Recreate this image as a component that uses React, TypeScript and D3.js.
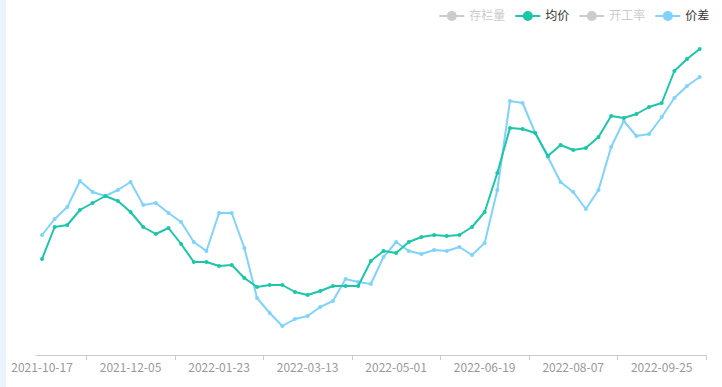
import { useEffect } from 'react';
import * as d3 from 'd3';

const dates = [
  '2021-10-17', '2021-10-24', '2021-10-31', '2021-11-07', '2021-11-14', '2021-11-21', '2021-11-28',
  '2021-12-05', '2021-12-12', '2021-12-19', '2021-12-26', '2022-01-02', '2022-01-09', '2022-01-16',
  '2022-01-23', '2022-01-30', '2022-02-06', '2022-02-13', '2022-02-20', '2022-02-27', '2022-03-06',
  '2022-03-13', '2022-03-20', '2022-03-27', '2022-04-03', '2022-04-10', '2022-04-17', '2022-04-24',
  '2022-05-01', '2022-05-08', '2022-05-15', '2022-05-22', '2022-05-29', '2022-06-05', '2022-06-12',
  '2022-06-19', '2022-06-26', '2022-07-03', '2022-07-10', '2022-07-17', '2022-07-24', '2022-07-31',
  '2022-08-07', '2022-08-14', '2022-08-21', '2022-08-28', '2022-09-04', '2022-09-11', '2022-09-18',
  '2022-09-25', '2022-10-02', '2022-10-09', '2022-10-16',
];

// 均价
const avgPrice = [
  9.6, 12.8, 13.0, 14.5, 15.2, 15.9, 15.4, 14.3, 12.8, 12.1, 12.7, 11.1, 9.3, 9.3,
  8.9, 9.0, 7.7, 6.8, 7.0, 7.0, 6.3, 6.0, 6.4, 6.9, 6.9, 6.9, 9.4, 10.4,
  10.2, 11.3, 11.8, 12.0, 11.9, 12.0, 12.8, 14.3, 18.2, 22.7, 22.6, 22.2, 19.9, 21.0,
  20.5, 20.7, 21.8, 23.9, 23.7, 24.1, 24.8, 25.2, 28.4, 29.6, 30.6,
];

// 价差
const spread = [
  12.0, 13.6, 14.8, 17.4, 16.3, 15.9, 16.5, 17.3, 15.0, 15.2, 14.2, 13.3, 11.3, 10.4,
  14.2, 14.2, 10.7, 5.7, 4.2, 2.9, 3.6, 3.9, 4.8, 5.4, 7.6, 7.3, 7.1, 9.8,
  11.3, 10.4, 10.1, 10.5, 10.4, 10.8, 10.0, 11.2, 16.5, 25.4, 25.2, 22.2, 19.8, 17.3,
  16.3, 14.6, 16.5, 20.8, 23.4, 21.9, 22.1, 23.8, 25.7, 26.9, 27.8,
];

const legendItems = [
  { name: '存栏量', color: '#1890ff', active: false },
  { name: '均价', color: '#1cc6a8', active: true },
  { name: '开工率', color: '#faad14', active: false },
  { name: '价差', color: '#7fd3fd', active: true },
];

const labelEvery = 7;

export default function App() {
  useEffect(() => {
    document.body.style.margin = '0';
  }, []);

  const width = 722;
  const height = 387;
  const margin = { left: 35.7, right: 16, top: 35, bottom: 32 };
  const axisY = height - margin.bottom;

  const x = d3.scaleBand()
    .domain(dates)
    .range([margin.left, width - margin.right])
    .padding(0);
  const half = x.bandwidth() / 2;

  const y = d3.scaleLinear()
    .domain([0, 32])
    .range([axisY, margin.top]);

  const line = d3.line<number>()
    .x((_, i) => x(dates[i])! + half)
    .y(d => y(d));

  const series = [
    { name: '价差', color: '#7fd3fd', values: spread },
    { name: '均价', color: '#1cc6a8', values: avgPrice },
  ];

  const labelIdx = dates.map((_, i) => i).filter(i => i % labelEvery === 0);
  const tickIdx = d3.range(4, dates.length + 1, labelEvery);

  // legend layout from right
  const font = '"Noto Sans CJK SC", "Microsoft YaHei", sans-serif';
  let lx = 439.3;
  const legend = legendItems.map(item => {
    const textW = item.name.length * 12;
    const g = { ...item, x: lx, textW };
    lx += 25 + 5 + textW + 10;
    return g;
  });

  return (
    <div style={{ position: 'fixed', left: 0, top: 0, width, height, background: '#fff' }}>
      <svg width={width} height={height} style={{ display: 'block' }}>
        <rect x={0} y={0} width={6} height={height} fill="#ebf4fe" />

        {/* legend */}
        {legend.map(item => {
          const c = item.active ? item.color : '#ccc';
          return (
            <g key={item.name} transform={`translate(${item.x},16)`}>
              <line x1={0} x2={25} y1={0} y2={0} stroke={c} strokeWidth={2} />
              <circle cx={12.5} cy={0} r={5} fill={c} />
              <text
                x={30}
                y={0}
                dy="0.35em"
                fontSize={12}
                fontFamily={font}
                fill={item.active ? '#333' : '#ccc'}
              >
                {item.name}
              </text>
            </g>
          );
        })}

        {/* x axis */}
        <line x1={margin.left} x2={width - margin.right} y1={axisY + 0.5} y2={axisY + 0.5} stroke="#ccc" />
        {tickIdx.map(i => {
          const tx = i < dates.length ? x(dates[i])! : width - margin.right;
          return (
            <line key={i} x1={Math.round(tx) + 0.5} x2={Math.round(tx) + 0.5} y1={axisY} y2={axisY + 5} stroke="#ccc" />
          );
        })}
        {labelIdx.map(i => (
          <text
            key={i}
            x={x(dates[i])! + half}
            y={axisY + 13}
            dy="0.35em"
            textAnchor="middle"
            fontSize={12}
            fontFamily={font}
            fill="#999"
          >
            {dates[i]}
          </text>
        ))}

        {/* lines */}
        {series.map(s => (
          <g key={s.name}>
            <path d={line(s.values)!} fill="none" stroke={s.color} strokeWidth={2} strokeLinejoin="round" />
            {s.values.map((v, i) => (
              <circle key={i} cx={x(dates[i])! + half} cy={y(v)} r={2} fill={s.color} />
            ))}
          </g>
        ))}
      </svg>
    </div>
  );
}
